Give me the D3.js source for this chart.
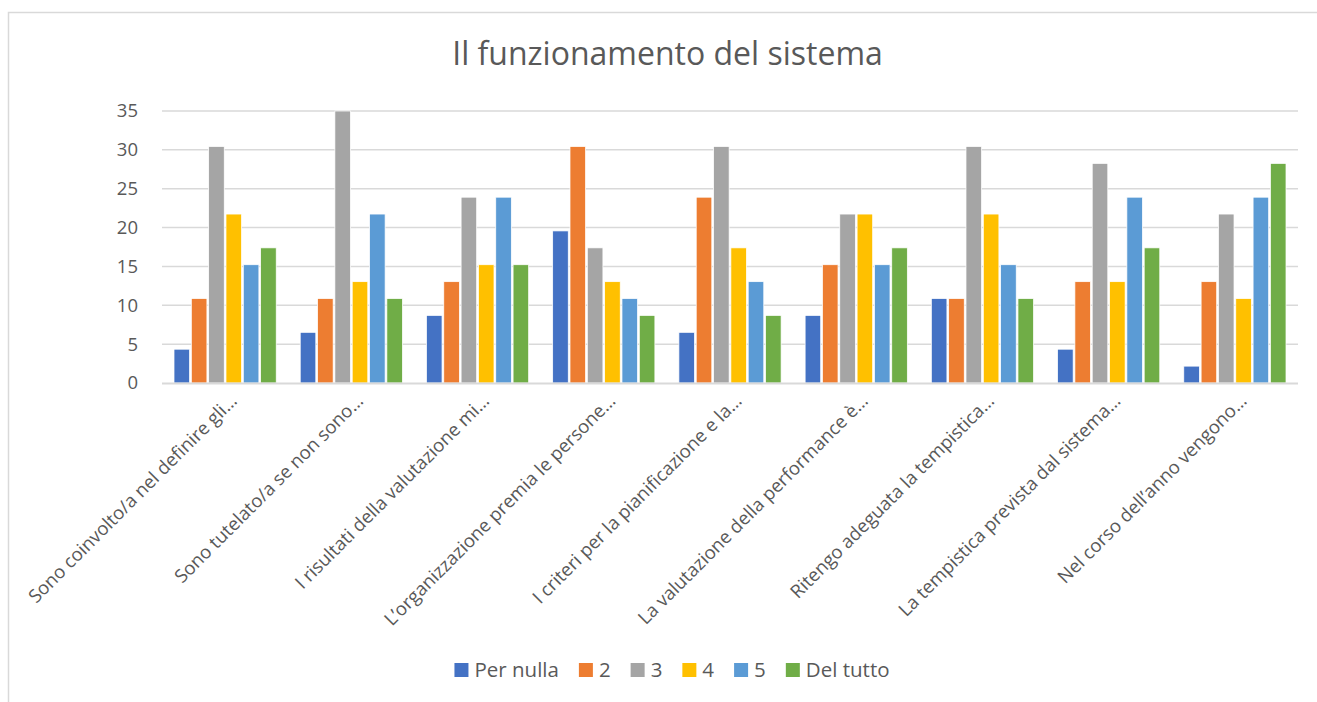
<!DOCTYPE html>
<html>
<head>
<meta charset="utf-8">
<script src="https://cdn.jsdelivr.net/npm/d3@7"></script>
<style>
  html, body { margin: 0; padding: 0; background: #fff; }
  svg text { font-family: "Open Sans", "Noto Sans", sans-serif; fill: #595959; }
</style>
</head>
<body>
<svg id="chart" width="1317" height="702"></svg>
<script>
const title = "Il funzionamento del sistema";
const categories = [
  "Sono coinvolto/a nel definire gli…",
  "Sono tutelato/a se non sono…",
  "I risultati della valutazione mi…",
  "L’organizzazione premia le persone…",
  "I criteri per la pianificazione e la…",
  "La valutazione della performance è…",
  "Ritengo adeguata la tempistica…",
  "La tempistica prevista dal sistema…",
  "Nel corso dell’anno vengono…"
];
const seriesNames = ["Per nulla", "2", "3", "4", "5", "Del tutto"];
const perNulla = [4.35, 6.52, 8.70, 19.57, 6.52, 8.70, 10.87, 4.35, 2.17];
const val2     = [10.87, 10.87, 13.04, 30.43, 23.91, 15.22, 10.87, 13.04, 13.04];
const val3     = [30.43, 36.96, 23.91, 17.39, 30.43, 21.74, 30.43, 28.26, 21.74];
const val4     = [21.74, 13.04, 15.22, 13.04, 17.39, 21.74, 21.74, 13.04, 10.87];
const val5     = [15.22, 21.74, 23.91, 10.87, 13.04, 15.22, 15.22, 23.91, 23.91];
const delTutto = [17.39, 10.87, 15.22, 8.70, 8.70, 17.39, 10.87, 17.39, 28.26];
const yTicks = [0, 5, 10, 15, 20, 25, 30, 35];
const colors = ["#4472C4", "#ED7D31", "#A5A5A5", "#FFC000", "#5B9BD5", "#70AD47"];

const seriesValues = [perNulla, val2, val3, val4, val5, delTutto];
const data = categories.map((c, i) => ({
  cat: c,
  values: seriesNames.map((s, j) => ({ series: s, idx: j, value: seriesValues[j][i] }))
}));

const svg = d3.select("#chart");
const W = 1317, H = 702;

// chart frame
svg.append("rect")
  .attr("x", 8.5).attr("y", 12.5)
  .attr("width", W + 10).attr("height", H + 10)
  .attr("fill", "none").attr("stroke", "#d9d9d9").attr("stroke-width", 1.5);

const plot = { left: 162, right: 1298, top: 111, bottom: 383 };

const x0 = d3.scaleBand().domain(categories).range([plot.left, plot.right]).paddingInner(0).paddingOuter(0);
const groupPad = 12;
const x1 = d3.scaleBand().domain(seriesNames)
  .range([groupPad, x0.bandwidth() - groupPad]).paddingInner(0.1).paddingOuter(0);
const y = d3.scaleLinear().domain([0, 35]).range([plot.bottom, plot.top]).clamp(true);

// gridlines
svg.append("g").selectAll("line").data(yTicks.filter(t => t > 0)).join("line")
  .attr("x1", plot.left).attr("x2", plot.right)
  .attr("y1", d => y(d)).attr("y2", d => y(d))
  .attr("stroke", "#d9d9d9").attr("stroke-width", 1.5);

// y axis labels
const yAxis = d3.axisLeft(y).tickValues(yTicks).tickSize(0).tickPadding(24);
const gy = svg.append("g").attr("transform", `translate(${plot.left},0)`).call(yAxis);
gy.select(".domain").remove();
gy.selectAll("text").style("font-size", "18.5px").attr("fill", "#595959")
  .style("font-family", '"Open Sans", sans-serif');

// bars
const groups = svg.append("g").selectAll("g").data(data).join("g")
  .attr("transform", d => `translate(${x0(d.cat)},0)`);
groups.selectAll("rect").data(d => d.values).join("rect")
  .attr("x", d => x1(d.series))
  .attr("width", x1.bandwidth())
  .attr("y", d => y(d.value))
  .attr("height", d => y(0) - y(d.value))
  .attr("fill", d => colors[d.idx])
  .attr("stroke", "#ffffff").attr("stroke-width", 0.75);

// x axis line
svg.append("line")
  .attr("x1", plot.left).attr("x2", plot.right)
  .attr("y1", plot.bottom + 0.5).attr("y2", plot.bottom + 0.5)
  .attr("stroke", "#d9d9d9").attr("stroke-width", 2);

// x labels
svg.append("g").selectAll("text").data(categories).join("text")
  .attr("transform", d => `translate(${x0(d) + x0.bandwidth() / 2 + 13},${plot.bottom + 19}) rotate(-45)`)
  .attr("text-anchor", "end")
  .style("font-size", "18.5px")
  .text(d => d);

// title
svg.append("text")
  .attr("x", 667.5).attr("y", 65)
  .attr("text-anchor", "middle")
  .style("font-size", "32px")
  .text(title);

// legend
const legend = svg.append("g");
const items = legend.selectAll("g").data(seriesNames).join("g");
items.append("rect").attr("width", 14).attr("height", 14).attr("y", -14)
  .attr("fill", (d, i) => colors[i]);
items.append("text").attr("x", 20).attr("y", 0).style("font-size", "20.5px").text(d => d);
let cx = 0;
items.each(function () {
  const g = d3.select(this);
  g.attr("transform", `translate(${cx},0)`);
  cx += 20 + g.select("text").node().getComputedTextLength() + 20;
});
const totalW = cx - 20;
legend.attr("transform", `translate(${672 - totalW / 2},677)`);
</script>
</body>
</html>
